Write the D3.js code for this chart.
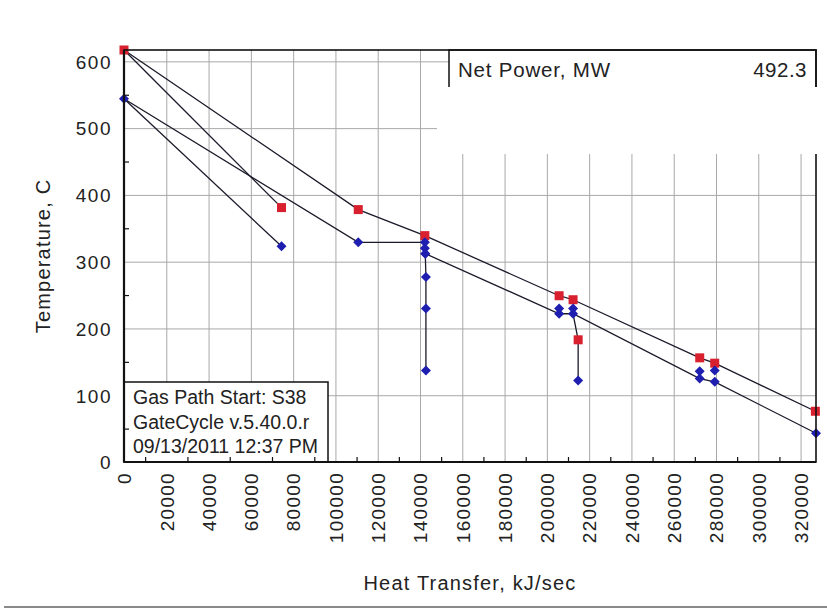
<!DOCTYPE html>
<html>
<head>
<meta charset="utf-8">
<script src="https://cdn.jsdelivr.net/npm/d3@7"></script>
<style>
  html, body { margin: 0; padding: 0; background: #fff; }
  svg { display: block; font-family: "Liberation Sans", Arial, sans-serif; }
</style>
</head>
<body>
<svg id="chart" width="827" height="611"></svg>
<script>
// ---------- data ----------
const xTickValues = [0, 20000, 40000, 60000, 80000, 100000, 120000, 140000, 160000,
  180000, 200000, 220000, 240000, 260000, 280000, 300000, 320000];
const xMinorTicks = [10000, 30000, 50000, 70000, 90000, 110000, 130000, 150000, 170000,
  190000, 210000, 230000, 250000, 270000, 290000, 310000];
const yTickValues = [0, 100, 200, 300, 400, 500, 600];
const yMinorTicks = [50, 150, 250, 350, 450, 550];

// gas path (red squares)
const gasQ = [0, 110800, 142300, 205800, 212400, 272300, 279400, 327000];
const gasT = [617, 378, 339, 249, 243, 156, 148, 76];
const gasBranchQ = [0, 74500];
const gasBranchT = [617, 381];

// water / steam paths (blue diamonds)
const rhQ = [0, 74500];
const rhT = [544, 323];
const hpQ = [0, 110800, 142300, 142300, 142500, 142800, 142800, 142800];
const hpT = [544, 329, 329, 320, 312, 277, 230, 137];
const lpQ = [142500, 205800, 212400, 272300, 279400, 327300];
const lpT = [312, 222, 222, 125, 120, 43];
const ipQ = [212400, 214800, 214800];
const ipT = [222, 183, 122];
const extraBlueQ = [205800, 212400, 272300, 279400];
const extraBlueT = [230, 230, 136, 137];

const infoLines = ["Gas Path Start: S38", "GateCycle v.5.40.0.r", "09/13/2011 12:37 PM"];
const legendLabel = "Net Power, MW";
const legendValue = "492.3";

// ---------- layout ----------
const svg = d3.select("#chart");
const L = 124, R = 816, T = 50, B = 462;
const x = d3.scaleLinear().domain([0, 327300]).range([L, R]);
const y = d3.scaleLinear().domain([0, 617]).range([B, T]);
const zip = (a, b) => a.map((v, i) => [v, b[i]]);

// gridlines
svg.append("g").attr("transform", `translate(0,${B})`)
  .call(d3.axisBottom(x).tickValues(xTickValues.slice(1)).tickSize(-(B - T)).tickFormat(""))
  .call(g => g.select(".domain").remove())
  .call(g => g.selectAll("line").attr("stroke", "#a8a8a8").attr("stroke-width", 1));
svg.append("g").attr("transform", `translate(${L},0)`)
  .call(d3.axisLeft(y).tickValues(yTickValues.slice(1)).tickSize(-(R - L)).tickFormat(""))
  .call(g => g.select(".domain").remove())
  .call(g => g.selectAll("line").attr("stroke", "#a8a8a8").attr("stroke-width", 1));

// lines
const line = d3.line().x(d => x(d[0])).y(d => y(d[1]));
const lineSets = [
  zip(gasQ, gasT), zip(gasBranchQ, gasBranchT),
  zip(rhQ, rhT), zip(hpQ, hpT), zip(lpQ, lpT), zip(ipQ, ipT)
];
svg.append("g").selectAll("path").data(lineSets).join("path")
  .attr("d", line).attr("fill", "none").attr("stroke", "#1a1a2a").attr("stroke-width", 1.3);

// markers
const redPts = zip(gasQ, gasT).concat(zip(gasBranchQ, gasBranchT).slice(1), [[ipQ[1], ipT[1]]]);
const bluePts = zip(rhQ, rhT).concat(zip(hpQ, hpT).slice(1), zip(lpQ, lpT), [[ipQ[2], ipT[2]]], zip(extraBlueQ, extraBlueT));
svg.append("g").selectAll("rect").data(redPts).join("rect")
  .attr("x", d => x(d[0]) - 4.5).attr("y", d => y(d[1]) - 4.5)
  .attr("width", 9).attr("height", 9).attr("fill", "#d8202e");
const diamond = "M0,-5L5,0L0,5L-5,0Z";
svg.append("g").selectAll("path").data(bluePts).join("path")
  .attr("d", diamond).attr("transform", d => `translate(${x(d[0])},${y(d[1])})`)
  .attr("fill", "#1e1eb0");

// info box (bottom left)
svg.append("rect").attr("x", L).attr("y", 382).attr("width", 204).attr("height", B - 382)
  .attr("fill", "#fff").attr("stroke", "#111").attr("stroke-width", 1.5);
svg.append("g").selectAll("text").data(infoLines).join("text")
  .attr("x", 133).attr("y", (d, i) => 404 + i * 24.5)
  .attr("font-size", 19.5).attr("fill", "#222").text(d => d);

// legend box (top right)
svg.append("rect").attr("x", 449).attr("y", T).attr("width", R - 449).attr("height", 60)
  .attr("fill", "#fff").attr("stroke", "#111").attr("stroke-width", 1.5);
svg.append("text").attr("x", 458).attr("y", 77).attr("font-size", 20.5)
  .attr("letter-spacing", 0.8).attr("fill", "#222").text(legendLabel);
svg.append("text").attr("x", 807).attr("y", 77).attr("font-size", 20.5)
  .attr("text-anchor", "end").attr("letter-spacing", 0.5).attr("fill", "#222").text(legendValue);

// frame
svg.append("rect").attr("x", L).attr("y", T).attr("width", R - L).attr("height", B - T)
  .attr("fill", "none").attr("stroke", "#111").attr("stroke-width", 1.6);
svg.append("line").attr("x1", L).attr("x2", L).attr("y1", T).attr("y2", B)
  .attr("stroke", "#111").attr("stroke-width", 2.2);
svg.append("line").attr("x1", L).attr("x2", R).attr("y1", B).attr("y2", B)
  .attr("stroke", "#111").attr("stroke-width", 2.2);

// white patch over the legend area
svg.append("rect").attr("x", 437).attr("y", 87).attr("width", 390).attr("height", 67).attr("fill", "#fff");

// minor ticks (inside)
svg.append("g").attr("transform", `translate(0,${B})`)
  .call(d3.axisBottom(x).tickValues(xMinorTicks).tickSize(-5).tickFormat(""))
  .call(g => g.select(".domain").remove())
  .call(g => g.selectAll("line").attr("stroke", "#111").attr("stroke-width", 1.2));
svg.append("g").attr("transform", `translate(${L},0)`)
  .call(d3.axisLeft(y).tickValues(yMinorTicks).tickSize(-5).tickFormat(""))
  .call(g => g.select(".domain").remove())
  .call(g => g.selectAll("line").attr("stroke", "#111").attr("stroke-width", 1.2));

// tick labels
svg.append("g").attr("transform", `translate(0,${B})`)
  .call(d3.axisBottom(x).tickValues(xTickValues).tickSize(0).tickFormat(d3.format("d")))
  .call(g => g.select(".domain").remove())
  .call(g => g.selectAll("text")
    .attr("transform", "rotate(-90)").attr("x", -10).attr("y", 0).attr("dy", "0.36em")
    .attr("text-anchor", "end").attr("font-size", 19).attr("letter-spacing", 1.3)
    .attr("font-family", "Liberation Sans, Arial, sans-serif").attr("fill", "#222"));
svg.append("g").attr("transform", `translate(${L},0)`)
  .call(d3.axisLeft(y).tickValues(yTickValues).tickSize(0).tickPadding(12).tickFormat(d3.format("d")))
  .call(g => g.select(".domain").remove())
  .call(g => g.selectAll("text")
    .attr("font-size", 19).attr("letter-spacing", 1.5).attr("dy", "0.36em")
    .attr("font-family", "Liberation Sans, Arial, sans-serif").attr("fill", "#222"));

// axis titles
svg.append("text").attr("x", (L + R) / 2).attr("y", 590).attr("text-anchor", "middle")
  .attr("font-size", 20).attr("letter-spacing", 1.2).attr("fill", "#222").text("Heat Transfer, kJ/sec");
svg.append("text").attr("transform", `translate(50,${(T + B) / 2}) rotate(-90)`)
  .attr("text-anchor", "middle").attr("font-size", 20).attr("letter-spacing", 1.2)
  .attr("fill", "#222").text("Temperature, C");

// bottom separator line
svg.append("line").attr("x1", 4).attr("x2", 827).attr("y1", 607).attr("y2", 607)
  .attr("stroke", "#8a8a8a").attr("stroke-width", 2);
</script>
</body>
</html>
